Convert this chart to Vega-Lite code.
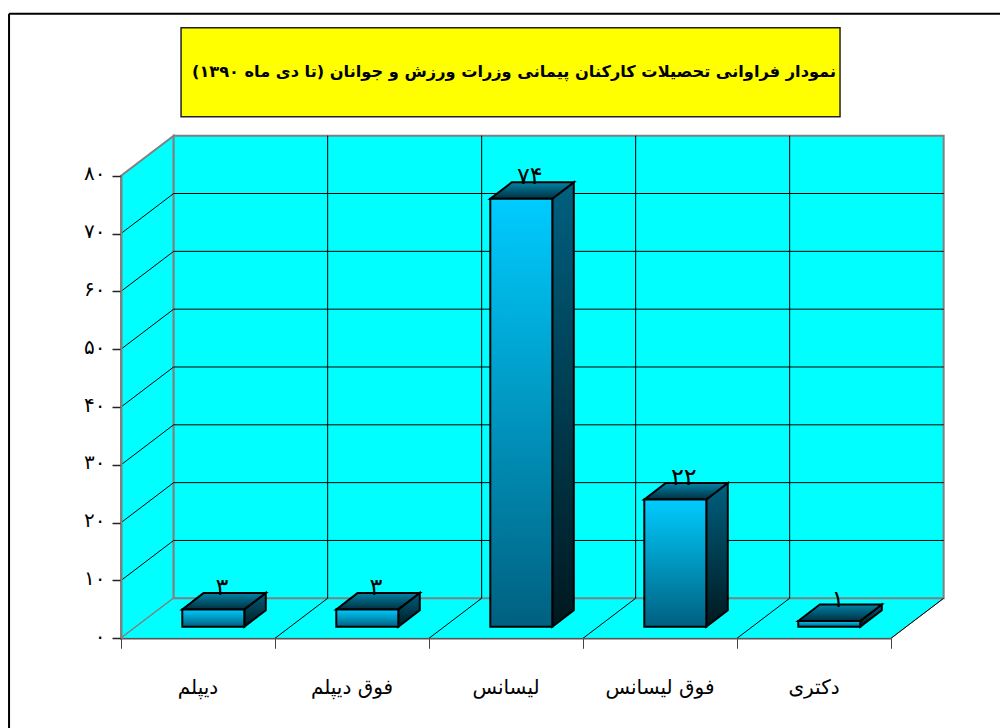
{
"$schema":"https://vega.github.io/schema/vega-lite/v6.json",
"width":1000,"height":728,"padding":0,"autosize":{"type":"none"},"background":"#ffffff",
"config":{"view":{"stroke":null},"font":"DejaVu Sans"},
"title":{"text":"نمودار فراوانی تحصیلات کارکنان پیمانی وزرات ورزش و جوانان (تا دی ماه ۱۳۹۰)","font":"DejaVu Sans","fontSize":16.2,"fontWeight":"bold","color":"#000000","anchor":"middle","baseline":"middle","offset":-88,"dx":14},
"datasets":{
"bars":[{"category":"دیپلم","value":3},{"category":"فوق دیپلم","value":3},{"category":"لیسانس","value":74},{"category":"فوق لیسانس","value":22},{"category":"دکتری","value":1}],
"ticks":[{"tick":10},{"tick":20},{"tick":30},{"tick":40},{"tick":50},{"tick":60},{"tick":70}],
"divs":[{"div":1},{"div":2},{"div":3},{"div":4}],
"depth":[{"depth":0},{"depth":1}]
},
"layer":[
{"data":{"values":[{"part":"frame"}]},"mark":{"type":"rule","stroke":"#000000","strokeWidth":2},
 "encoding":{"x":{"datum":-0.727,"type":"quantitative","scale":{"domain":[0,5],"range":[121,891],"nice":false,"zero":false},"axis":{"values":[0,1,2,3,4,5],"labels":false,"title":null,"grid":false,"offset":-89.7,"tickSize":10,"tickColor":"#444444","domainColor":"#555555","domainWidth":1.5,"zindex":1}},"x2":{"datum":5.71},
 "y":{"datum":108,"type":"quantitative","scale":{"domain":[0,80],"range":[638.3,175.7],"nice":false,"zero":false},"axis":{"values":[0,10,20,30,40,50,60,70,80],"title":null,"grid":false,"offset":-121,"tickSize":9,"tickColor":"#222222","tickWidth":1.5,"domainColor":"#808080","domainWidth":2,"zindex":1,"labelFont":"DejaVu Sans","labelFontSize":20,"labelColor":"#000000","labelPadding":7,"labelOffset":-2,"labelExpr":"replace(replace(replace(replace(replace(replace(replace(replace(replace(datum.label,/0/g,'۰'),/1/g,'۱'),/2/g,'۲'),/3/g,'۳'),/4/g,'۴'),/5/g,'۵'),/6/g,'۶'),/7/g,'۷'),/8/g,'۸')"}}}},
{"data":{"values":[{"part":"frame"}]},"mark":{"type":"rule","stroke":"#000000","strokeWidth":2},
 "encoding":{"x":{"datum":-0.727,"type":"quantitative"},"y":{"datum":108,"type":"quantitative"},"y2":{"datum":-15.9}}},
{"data":{"values":[{"part":"titlebox"}]},"mark":{"type":"rect","fill":"#FFFF00","stroke":"#222222","strokeWidth":1.5},
 "encoding":{"x":{"datum":0.39,"type":"quantitative"},"x2":{"datum":4.669},"y":{"datum":105.6,"type":"quantitative"},"y2":{"datum":90.2}}},
{"data":{"name":"depth"},"transform":[{"calculate":"datum.depth*0.342","as":"xa"},{"calculate":"datum.depth*6.92","as":"ya"},{"calculate":"80+datum.depth*6.92","as":"yb"}],
 "mark":{"type":"area","orient":"vertical","fill":"#00FFFF","stroke":"#808080","strokeWidth":2},
 "encoding":{"x":{"field":"xa","type":"quantitative"},"y":{"field":"yb","type":"quantitative"},"y2":{"field":"ya"}}},
{"data":{"name":"depth"},"transform":[{"calculate":"datum.depth*0.342","as":"xa"},{"calculate":"5+datum.depth*0.342","as":"xb"},{"calculate":"datum.depth*6.92","as":"ya"}],
 "mark":{"type":"area","orient":"horizontal","fill":"#00FFFF","stroke":"#808080","strokeWidth":1},
 "encoding":{"y":{"field":"ya","type":"quantitative"},"x":{"field":"xa","type":"quantitative"},"x2":{"field":"xb"}}},
{"data":{"values":[{"part":"backwall"}]},"mark":{"type":"rect","fill":"#00FFFF","stroke":"#808080","strokeWidth":2},
 "encoding":{"x":{"datum":0.342,"type":"quantitative"},"x2":{"datum":5.342},"y":{"datum":6.92,"type":"quantitative"},"y2":{"datum":86.92}}},
{"data":{"name":"ticks"},"transform":[{"calculate":"datum.tick+6.92","as":"back"}],"mark":{"type":"rule","stroke":"#000000","strokeWidth":1},
 "encoding":{"x":{"datum":0.342,"type":"quantitative"},"x2":{"datum":5.342},"y":{"field":"back","type":"quantitative"}}},
{"data":{"name":"ticks"},"transform":[{"calculate":"datum.tick+6.92","as":"back"}],"mark":{"type":"rule","stroke":"#000000","strokeWidth":1},
 "encoding":{"x":{"datum":0,"type":"quantitative"},"x2":{"datum":0.342},"y":{"field":"tick","type":"quantitative"},"y2":{"field":"back"}}},
{"data":{"name":"divs"},"transform":[{"calculate":"datum.div+0.342","as":"back"}],"mark":{"type":"rule","stroke":"#000000","strokeWidth":1},
 "encoding":{"x":{"field":"back","type":"quantitative"},"y":{"datum":6.92,"type":"quantitative"},"y2":{"datum":86.92}}},
{"data":{"name":"divs"},"transform":[{"calculate":"datum.div+0.342","as":"back"}],"mark":{"type":"rule","stroke":"#000000","strokeWidth":1},
 "encoding":{"x":{"field":"div","type":"quantitative"},"x2":{"field":"back"},"y":{"datum":0,"type":"quantitative"},"y2":{"datum":6.92}}},
{"data":{"values":[{"part":"flooredge"}]},"mark":{"type":"rule","stroke":"#000000","strokeWidth":1},
 "encoding":{"x":{"datum":5,"type":"quantitative"},"x2":{"datum":5.342},"y":{"datum":0,"type":"quantitative"},"y2":{"datum":6.92}}},
{"data":{"name":"bars"},"transform":[{"window":[{"op":"row_number","as":"idx"}]},{"calculate":"[0,1]","as":"d"},{"flatten":["d"]},{"calculate":"datum.idx-1+0.8006+datum.d*0.1396","as":"xs"},{"calculate":"2+datum.d*2.855","as":"y0"},{"calculate":"datum.y0+datum.value","as":"y1"}],
 "mark":{"type":"area","orient":"vertical","stroke":"#000000","strokeWidth":2,"fill":{"gradient":"linear","x1":0,"y1":0,"x2":0,"y2":1,"stops":[{"offset":0,"color":"#006080"},{"offset":1,"color":"#00181f"}]}},
 "encoding":{"x":{"field":"xs","type":"quantitative"},"y":{"field":"y1","type":"quantitative"},"y2":{"field":"y0"},"detail":{"field":"category"}}},
{"data":{"name":"bars"},"transform":[{"window":[{"op":"row_number","as":"idx"}]},{"calculate":"[0,1]","as":"d"},{"flatten":["d"]},{"calculate":"datum.idx-1+0.398+datum.d*0.1396","as":"xl"},{"calculate":"datum.idx-1+0.8006+datum.d*0.1396","as":"xr"},{"calculate":"datum.value+2+datum.d*2.855","as":"yt"}],
 "mark":{"type":"area","orient":"horizontal","stroke":"#000000","strokeWidth":2,"fill":{"gradient":"linear","x1":0,"y1":0,"x2":0,"y2":1,"stops":[{"offset":0,"color":"#0084a8"},{"offset":1,"color":"#003040"}]}},
 "encoding":{"y":{"field":"yt","type":"quantitative"},"x":{"field":"xl","type":"quantitative"},"x2":{"field":"xr"},"detail":{"field":"category"}}},
{"data":{"name":"bars"},"transform":[{"window":[{"op":"row_number","as":"idx"}]},{"calculate":"datum.idx-1+0.398","as":"xl"},{"calculate":"datum.idx-1+0.8006","as":"xr"},{"calculate":"datum.value+2","as":"top"}],
 "mark":{"type":"rect","stroke":"#000000","strokeWidth":2,"fill":{"gradient":"linear","x1":0,"y1":0,"x2":0,"y2":1,"stops":[{"offset":0,"color":"#00CCFF"},{"offset":1,"color":"#006080"}]}},
 "encoding":{"x":{"field":"xl","type":"quantitative"},"x2":{"field":"xr"},"y":{"field":"top","type":"quantitative"},"y2":{"datum":2}}},
{"data":{"name":"bars"},"transform":[{"window":[{"op":"row_number","as":"idx"}]},{"calculate":"datum.idx-1+0.6548","as":"xt"},{"calculate":"datum.value+5.7","as":"yt"},{"calculate":"replace(replace(replace(replace(''+datum.value,/1/g,'۱'),/2/g,'۲'),/3/g,'۳'),/7/g,'۷')","as":"lab0"},{"calculate":"replace(datum.lab0,/4/g,'۴')","as":"lab"}],
 "mark":{"type":"text","font":"DejaVu Sans","fontSize":24,"color":"#000000","align":"center","baseline":"middle"},
 "encoding":{"x":{"field":"xt","type":"quantitative"},"y":{"field":"yt","type":"quantitative"},"text":{"field":"lab"}}},
{"data":{"name":"bars"},"transform":[{"window":[{"op":"row_number","as":"idx"}]},{"calculate":"datum.idx-0.5","as":"xt"}],
 "mark":{"type":"text","font":"DejaVu Sans","fontSize":20,"color":"#000000","align":"center","baseline":"middle"},
 "encoding":{"x":{"field":"xt","type":"quantitative"},"y":{"datum":-8.6,"type":"quantitative"},"text":{"field":"category"}}}
]
}
